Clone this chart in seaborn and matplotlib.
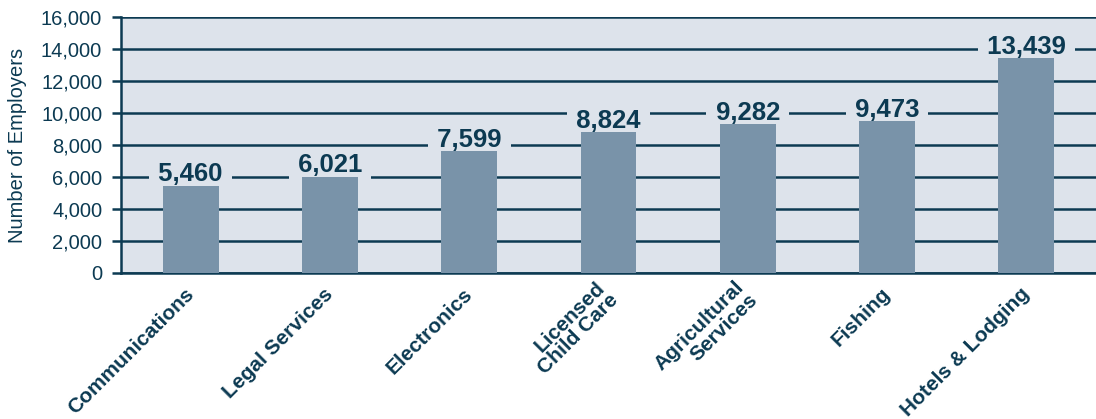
import matplotlib
matplotlib.use("Agg")
import matplotlib.pyplot as plt
import seaborn as sns
import numpy as np
import pandas as pd

# ---------------- data ----------------
industries = ["Communications", "Legal Services", "Electronics", "Licensed\nChild Care",
              "Agricultural\nServices", "Fishing", "Hotels & Lodging"]
employers = [5460, 6021, 7599, 8824, 9282, 9473, 13439]
y_ticks = [0, 2000, 4000, 6000, 8000, 10000, 12000, 14000, 16000]

navy = "#0c3a52"
bg = "#dde3eb"
bar_color = "#7993a9"

sns.set_theme(style="white")
plt.rcParams['font.family'] = ['Liberation Sans', 'DejaVu Sans']

df = pd.DataFrame({"industry": industries, "employers": employers})

fig = plt.figure(figsize=(10.96, 4.19), dpi=100)
ax = fig.add_axes([121 / 1096, 1 - 273 / 419, 975 / 1096, 256 / 419])
ax.set_facecolor(bg)

sns.barplot(data=df, x="industry", y="employers", color=bar_color, saturation=1,
            width=0.4, ax=ax, zorder=4, edgecolor="none", linewidth=0)

# grid lines in dark navy, behind the bars
ax.set_axisbelow(True)
ax.yaxis.grid(True, color=navy, linewidth=1.8)
ax.xaxis.grid(False)

ax.set_ylim(0, 16000)
ax.set_xlim(-0.5, -0.5 + 975 / 140.5)
ax.set_yticks(y_ticks)
ax.set_yticklabels([f"{t:,}" for t in y_ticks], fontsize=14.5, color=navy)

# category labels at centres, tick marks at category boundaries
ax.set_xticks(range(len(industries)))
ax.set_xticklabels(industries, rotation=45, ha="right", va="center",
                   rotation_mode="anchor", fontsize=15, fontweight="bold",
                   color=navy, linespacing=0.95)
ax.set_xticks(np.arange(-0.5, len(industries), 1.0), minor=True)
ax.tick_params(axis="x", which="major", length=0, pad=13)
ax.tick_params(axis="x", which="minor", length=8, width=1.8, color=navy, direction="out")
ax.tick_params(axis="y", length=6.5, width=1.8, color=navy, pad=7, left=True)

for side in ["top", "right"]:
    ax.spines[side].set_visible(False)
for side in ["left", "bottom"]:
    ax.spines[side].set_color(navy)
    ax.spines[side].set_linewidth(1.8)

ax.set_xlabel("")
ax.set_ylabel("Number of Employers", fontsize=14.5, color=navy)
ax.yaxis.set_label_coords(-0.096, 0.5)

# value labels sitting on the bars, masking the grid lines
# (spaces give the side gap, small pad keeps the box off the next grid line)
for i, v in enumerate(employers):
    ax.annotate(f" {v:,} ", xy=(i, v), xytext=(0, 3), textcoords="offset points",
                ha="center", va="baseline", fontsize=18.5, fontweight="bold",
                color=navy, zorder=3,
                bbox=dict(boxstyle="square,pad=0.08", facecolor=bg, edgecolor="none"))

fig.savefig("out.png", dpi=100)
